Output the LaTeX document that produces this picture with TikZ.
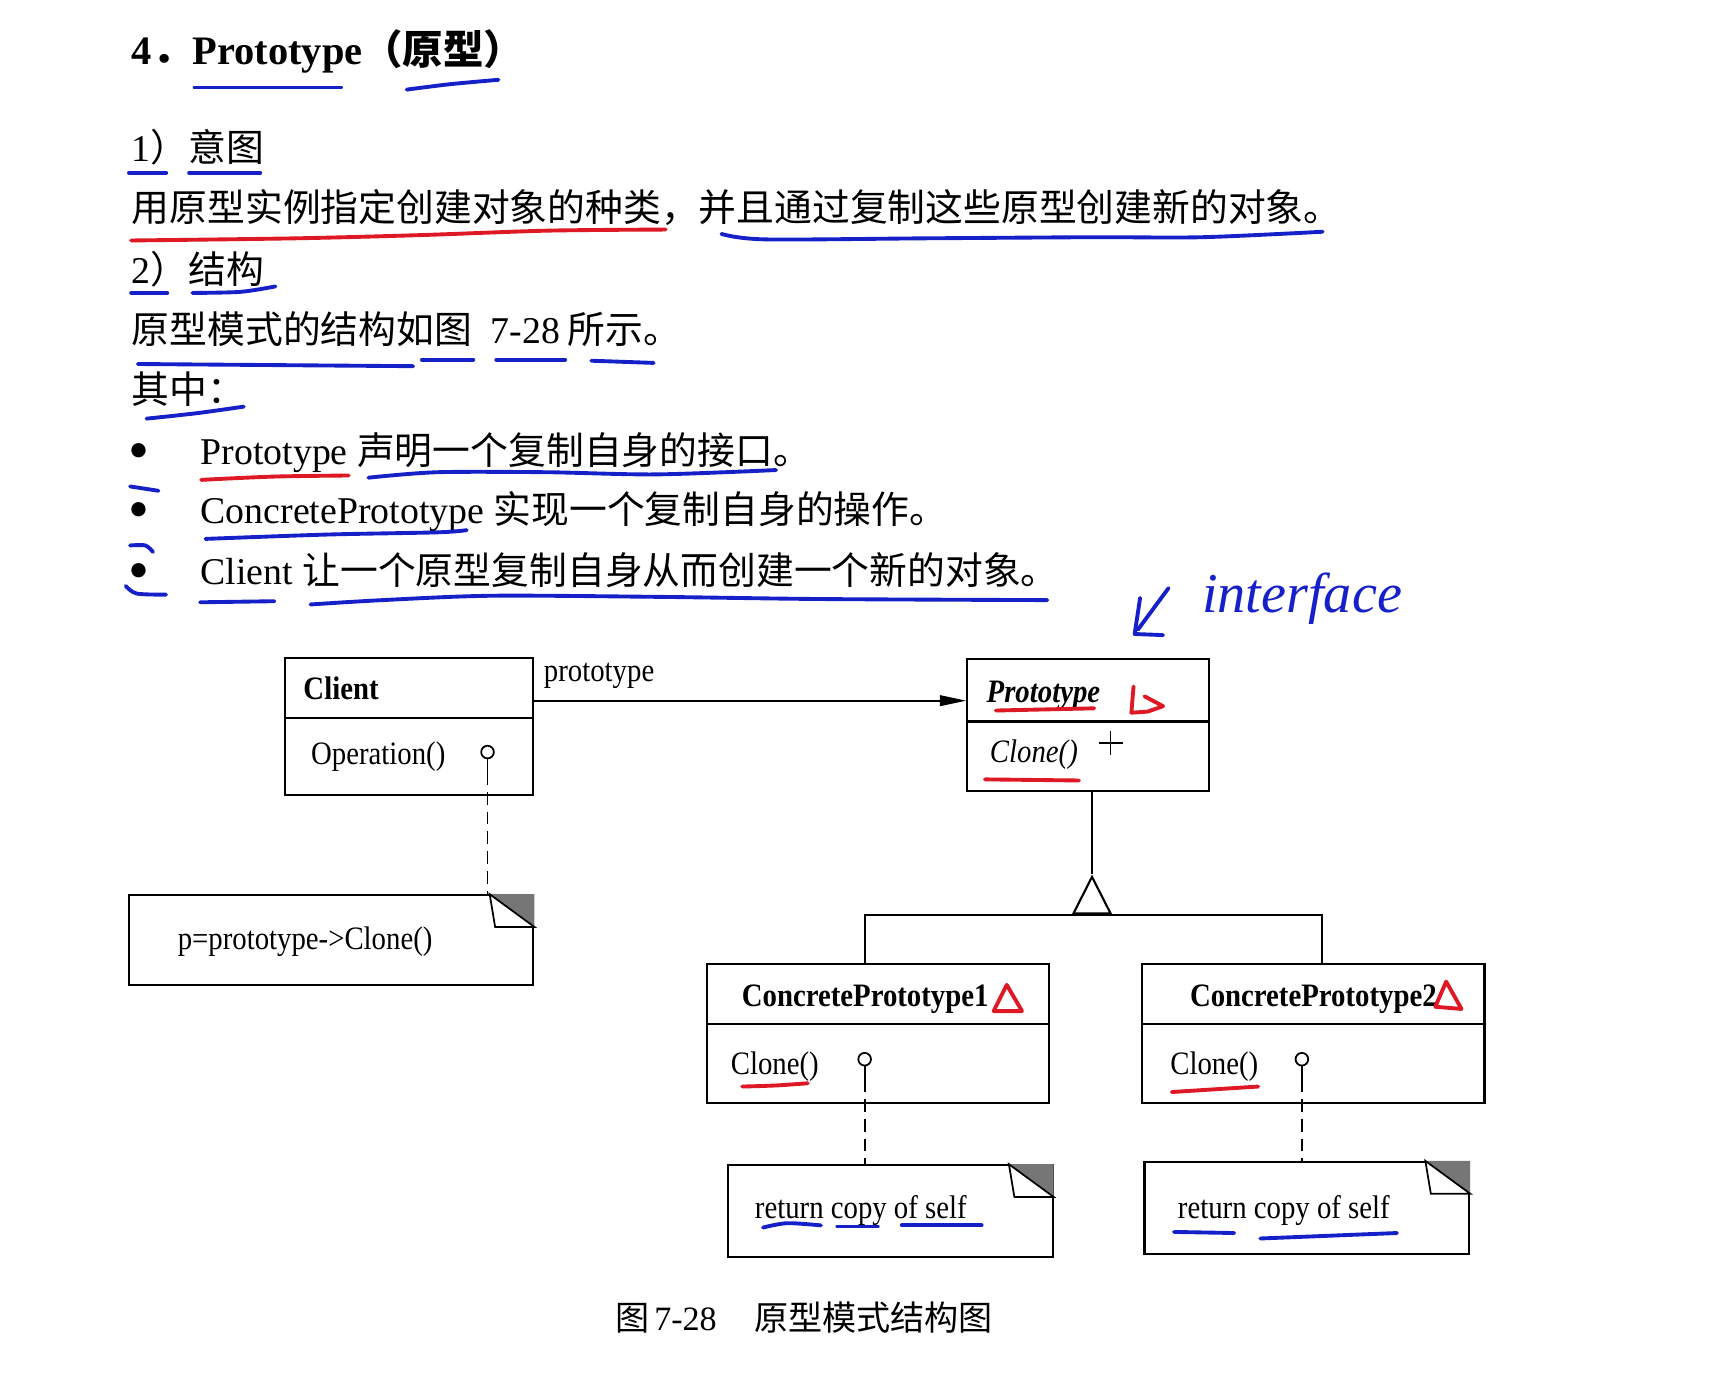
\documentclass[tikz,border=0pt]{standalone}
\usepackage{fontspec}
\setmainfont{Liberation Serif}
\newfontfamily\cjk{Noto Sans CJK SC}
\newfontfamily\umlfont[FakeStretch=0.88]{Liberation Serif}
\usepackage{tikz}
\usetikzlibrary{arrows.meta,positioning,fit,calc}
\definecolor{pen}{RGB}{22,32,200}
\definecolor{redpen}{RGB}{222,24,36}
\definecolor{foldgray}{RGB}{118,118,118}
\tikzset{
  % 正文
  txt/.style={anchor=base west, inner sep=0pt, font=\fontsize{10.75}{13}\selectfont},
  headline/.style={txt, font=\fontsize{11.5}{14}\selectfont\bfseries},
  dot/.style={txt, font=\fontsize{17}{17}\selectfont},
  caption/.style={txt, font=\fontsize{9.7}{12}\selectfont},
  % 类图
  box/.style={draw, line width=0.6pt, inner sep=0pt},
  lbl/.style={anchor=base west, inner sep=0pt, font=\umlfont\fontsize{9.3}{11}\selectfont},
  ilbl/.style={lbl, font=\umlfont\fontsize{9.3}{11}\selectfont\itshape},
  cname/.style={lbl, font=\umlfont\fontsize{9.3}{11}\selectfont\bfseries},
  iname/.style={lbl, font=\umlfont\fontsize{9.3}{11}\selectfont\bfseries\itshape},
  pinhead/.style={draw, circle, fill=white, line width=0.5pt, minimum size=3.6pt, inner sep=0pt},
  link/.style={line width=0.5pt, dash pattern=on 3.6pt off 2pt},
  flow/.style={line width=0.6pt, -{Triangle[length=7.5pt, width=3pt]}},
  gen/.style={line width=0.6pt, -{Triangle[length=11.4pt, width=11.4pt, fill=white]}},
  % 手写批注
  ink/.style={draw=pen, line width=1.1pt, line cap=round, line join=round},
  redink/.style={ink, draw=redpen},
  inktext/.style={anchor=base west, inner sep=0pt, text=pen, font=\fontsize{16}{18}\selectfont\itshape}
}
\newcommand\notecorner[1]{%
  \fill[foldgray] ($(#1.north east)+(-41,0)$) -- (#1.north east) -- ($(#1.north east)+(0,30)$) -- cycle;
  \draw[line width=0.5pt, fill=white] ($(#1.north east)+(-41,0)$) -- ($(#1.north east)+(-36,30)$) -- ($(#1.north east)+(0,30)$) -- cycle;}

\begin{document}
\begin{tikzpicture}[x=0.010931cm, y=-0.010931cm]
  \path[use as bounding box, fill=white] (0,0) rectangle (1568,1259);

  % 标题与正文
  \node[headline] (title) at (120,59) {4{\cjk ．}Prototype{\cjk （原型）}};
  \node[txt] (intent) at (120,148) {1{\cjk ）意图}};
  \node[txt] (intenttext) at (120,203) {\cjk 用原型实例指定创建对象的种类，并且通过复制这些原型创建新的对象。};
  \node[txt] (struct) at (120,259) {2{\cjk ）结构}};
  \node[txt] (structtext) at (120,314) {{\cjk 原型模式的结构如图}\hspace{.5em}7-28\hspace{.2em}{\cjk 所示。}};
  \node[txt] (among) at (120,369) {\cjk 其中：};
  \node[dot] (dot1) at (117,430) {\textbullet};
  \node[txt] (item1) at (183,425) {Prototype {\cjk 声明一个复制自身的接口。}};
  \node[dot] (dot2) at (117,484) {\textbullet};
  \node[txt] (item2) at (183,479) {ConcretePrototype {\cjk 实现一个复制自身的操作。}};
  \node[dot] (dot3) at (117,540) {\textbullet};
  \node[txt] (item3) at (183,535) {Client {\cjk 让一个原型复制自身从而创建一个新的对象。}};

  % 类图
  \node[box, fit={(261,602) (488,657)}] (client) {};
  \node[box, fit={(261,657) (488,727)}] (clientops) {};
  \node[cname] (clientname) at (277,640) {Client};
  \node[lbl] (operation) at (284,699) {Operation()};
  \node[pinhead] (clientpin) at (446,688) {};

  \node[box, fit={(885,603) (1106,660)}] (proto) {};
  \node[box, fit={(885,660) (1106,724)}] (protoops) {};
  \node[iname] (protoname) at (902,643) {Prototype};
  \node[ilbl] (protoclone) at (905,698) {Clone()};

  \node[box, fit={(647,882) (960,937)}] (cp1) {};
  \node[box, fit={(647,937) (960,1009)}] (cp1ops) {};
  \node[cname] (cp1name) at (678,921) {ConcretePrototype1};
  \node[lbl] (cp1clone) at (668,983) {Clone()};
  \node[pinhead] (cp1pin) at (791,969) {};

  \node[box, fit={(1045,882) (1358,937)}] (cp2) {};
  \node[box, fit={(1045,937) (1358,1009)}] (cp2ops) {};
  \node[cname] (cp2name) at (1088,921) {ConcretePrototype2};
  \node[lbl] (cp2clone) at (1070,983) {Clone()};
  \node[pinhead] (cp2pin) at (1191,969) {};

  % 注释框
  \node[box, fit={(118,819) (488,901)}] (clientnote) {};
  \node[lbl] (clientcode) at (162,869) {p=prototype->Clone()};
  \node[box, fit={(666,1066) (963,1150)}] (note1) {};
  \node[lbl] (note1text) at (690,1115) {return copy of self};
  \node[box, fit={(1047,1063) (1344,1147)}] (note2) {};
  \node[lbl] (note2text) at (1077,1115) {return copy of self};
  \notecorner{clientnote}
  \notecorner{note1}
  \notecorner{note2}

  % 关联与继承
  \coordinate (arr) at (0,641);
  \draw[flow] (client.east |- arr) -- (proto.west |- arr);
  \node[lbl] (role) at (497,623) {prototype};

  \coordinate (fork) at (999,837);
  \coordinate (apex) at (999,800);
  \coordinate (b1) at (791,837);
  \coordinate (b2) at (1209,837);
  \draw[line width=0.6pt] (fork |- protoops.south) -- (apex);
  \draw[line width=0.6pt] (cp1.north -| b1) |- (b2) -- (cp2.north -| b2);
  \draw[gen] (fork) -- (apex);

  % 实现注释的虚线
  \draw[line width=0.5pt] (clientpin.south) -- ++(0,12) coordinate (clientstem);
  \draw[link] (clientstem) -- (clientstem |- clientnote.north);
  \draw[line width=0.5pt] (cp1pin.south) -- ++(0,12) coordinate (cp1stem);
  \draw[link] (cp1stem) -- (cp1stem |- note1.north);
  \draw[line width=0.5pt] (cp2pin.south) -- ++(0,12) coordinate (cp2stem);
  \draw[link] (cp2stem) -- (cp2stem |- note2.north);

  % 光标
  \draw[line width=0.5pt] (1005,680) -- (1027,680) (1016,669) -- (1016,691);

  % 手写批注
  \draw[ink] (178,80) -- (312,80);
  \draw[ink] plot[smooth] coordinates {(372,82) (412,77) (456,73)};
  \draw[ink] (118,158) -- (152,158);
  \draw[ink] (173,158) -- (238,158);
  \draw[redink] plot[smooth] coordinates {(120,220) (272,218) (387,215) (501,211) (609,210)};
  \draw[ink] plot[smooth] coordinates {(660,214) (700,219) (850,218) (1000,217) (1100,217) (1210,212)};
  \draw[ink] (120,268) -- (153,268);
  \draw[ink] plot[smooth] coordinates {(176,268) (220,267) (252,262)};
  \draw[ink] (126,333) -- (378,335);
  \draw[ink] (386,329) -- (433,329);
  \draw[ink] (454,329) -- (517,329);
  \draw[ink] (541,330) -- (598,332);
  \draw[ink] plot[smooth] coordinates {(134,383) (180,378) (223,372)};
  \draw[redink] plot[smooth] coordinates {(184,439) (250,436) (319,435)};
  \draw[ink] plot[smooth] coordinates {(337,437) (400,432) (500,432) (600,434) (710,430)};
  \draw[ink] (119,445) -- (145,449);
  \draw[ink] plot[smooth] coordinates {(188,493) (300,489) (400,487) (427,485)};
  \draw[ink] plot[smooth] coordinates {(119,499) (133,499) (140,505)};
  \draw[ink] plot[smooth] coordinates {(115,536) (125,543) (152,544)};
  \draw[ink] (183,551) -- (251,550);
  \draw[ink] plot[smooth] coordinates {(284,553) (350,549) (450,545) (600,546) (750,548) (958,549)};
  \draw[ink] (1069,538) -- (1041,576);
  \draw[ink] (1043,547) -- (1038,580) -- (1064,581);
  \node[inktext] (iface) at (1099,560) {interface};

  \draw[redink] (911,650) -- (1001,648);
  \draw[redink] (1037,628) -- (1035,652) -- (1050,651) (1047,637) -- (1064,646) -- (1050,651);
  \draw[redink] (901,713) -- (987,714);
  \draw[redink] (909,925) -- (921,901) -- (935,925) -- cycle;
  \draw[redink] plot[smooth] coordinates {(679,994) (710,993) (739,991)};
  \draw[redink] (1313,921) -- (1323,898) -- (1337,923) -- cycle;
  \draw[redink] (1072,999) -- (1151,994);
  \draw[ink] plot[smooth] coordinates {(698,1123) (720,1119) (751,1121)};
  \draw[ink] (766,1122) -- (803,1122);
  \draw[ink] (825,1121) -- (898,1121);
  \draw[ink] (1074,1127) -- (1129,1128);
  \draw[ink] (1153,1133) -- (1278,1128);

  % 图题
  \node[caption] (figcap) at (562,1217) {{\cjk 图}\hspace{.15em}7-28\hspace{1.1em}{\cjk 原型模式结构图}};
\end{tikzpicture}
\end{document}
